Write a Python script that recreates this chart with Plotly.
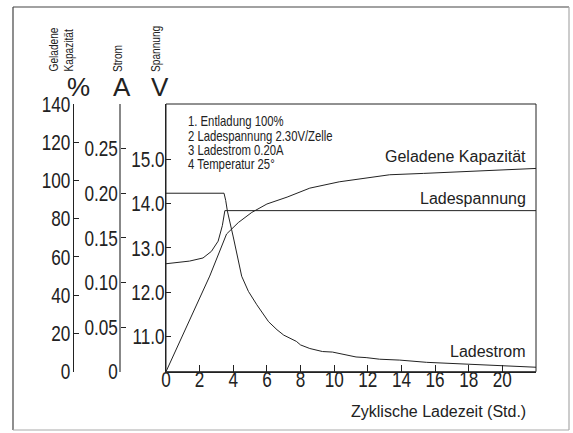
import plotly.graph_objects as go

# ---- data ----
t_spannung = [0, 0.6, 1.4, 2.2, 2.7, 3.1, 3.35, 3.5, 22]
spannung = [12.64, 12.66, 12.70, 12.77, 12.92, 13.15, 13.5, 13.84, 13.84]

t_strom = [0, 3.45, 3.55, 3.65, 4.0, 4.5, 4.9, 5.4, 6.1, 6.6, 7.0, 7.75, 8.0, 8.55,
           9.3, 9.9, 11.3, 11.9, 12.7, 13.9, 15.5, 18.0, 20.0, 22]
strom = [0.200, 0.200, 0.192, 0.180, 0.151, 0.107, 0.090, 0.075, 0.056, 0.047, 0.041,
         0.034, 0.030, 0.026, 0.0226, 0.022, 0.0165, 0.0158, 0.014, 0.013, 0.0105,
         0.0083, 0.0068, 0.005]

t_kapazitaet = [0, 1.6, 2.6, 3.6, 4.3, 5.1, 6.0, 7.2, 8.55, 10.3, 11.7, 13.3, 15.3, 18.2, 22]
kapazitaet = [0, 30.5, 50, 72, 78, 83.3, 87.7, 91.3, 96, 99.3, 101, 103, 103.7, 104.7, 106.3]

x_ticks = [0, 2, 4, 6, 8, 10, 12, 14, 16, 18, 20]
v_ticks = [11, 12, 13, 14, 15]
v_ticktext = ["11.0", "12.0", "13.0", "14.0", "15.0"]
a_ticks = [0, 0.05, 0.10, 0.15, 0.20, 0.25]
a_ticktext = ["0", "0.05", "0.10", "0.15", "0.20", "0.25"]
p_ticks = [0, 20, 40, 60, 80, 100, 120, 140]

info_lines = ["1. Entladung 100%", "2 Ladespannung 2.30V/Zelle",
              "3 Ladestrom 0.20A", "4 Temperatur 25°"]

W, H = 573, 433
def px(x):
    return x / W
def py(y):
    return 1 - y / H

NARROW = "Liberation Sans Narrow, Liberation Sans, Arial, sans-serif"
SANS = "Liberation Sans, Arial, sans-serif"
INK = "#222"

fig = go.Figure()
line = dict(color=INK, width=1)
fig.add_trace(go.Scatter(x=t_spannung, y=spannung, mode="lines", line=line, yaxis="y"))
fig.add_trace(go.Scatter(x=t_strom, y=strom, mode="lines", line=line, yaxis="y3"))
fig.add_trace(go.Scatter(x=t_kapazitaet, y=kapazitaet, mode="lines", line=line, yaxis="y2"))

tickfont = dict(family=NARROW, size=22, color=INK)
common_y = dict(showgrid=False, zeroline=False, showline=True, linecolor=INK, linewidth=1,
                ticks="inside", ticklen=5, tickcolor=INK, tickfont=tickfont, automargin=False)

fig.update_layout(
    width=W, height=H, template="none", showlegend=False,
    margin=dict(l=0, r=0, t=0, b=0),
    paper_bgcolor="white", plot_bgcolor="white",
    xaxis=dict(domain=[px(166), px(536)], range=[0, 22], tickvals=x_ticks,
               showgrid=False, zeroline=False, showline=True, linecolor=INK, linewidth=1,
               ticks="inside", ticklen=7, tickcolor=INK, tickfont=tickfont,
               ticklabelstandoff=-12, automargin=False, anchor="y"),
    yaxis=dict(domain=[py(371.7), py(104)], range=[10.2, 16.25], tickvals=v_ticks,
               ticktext=v_ticktext, anchor="x", side="left", ticklabelstandoff=-4,
               **common_y),
    yaxis2=dict(domain=[py(371.7), py(104)], range=[0, 140], tickvals=p_ticks,
                overlaying="y", anchor="free", position=px(72.7), side="left",
                ticklabelstandoff=-2, **common_y),
    yaxis3=dict(domain=[py(371.7), py(104)], range=[0, 0.3], tickvals=a_ticks,
                ticktext=a_ticktext, overlaying="y", anchor="free", position=px(120),
                side="left", ticklabelstandoff=-3,
                **{**common_y, "linecolor": "#888", "linewidth": 1.5}),
)

# plot box
fig.add_shape(type="rect", xref="x domain", yref="y domain", x0=0, x1=1, y0=0, y1=1,
              line=dict(color=INK, width=1))
# outer frame
fig.add_shape(type="line", xref="paper", yref="paper", x0=px(13), x1=px(13), y0=py(7), y1=py(430),
              line=dict(color="#444", width=1.2))
fig.add_shape(type="line", xref="paper", yref="paper", x0=px(13), x1=px(569), y0=py(7), y1=py(7),
              line=dict(color="#444", width=1.2))
fig.add_shape(type="line", xref="paper", yref="paper", x0=px(569), x1=px(569), y0=py(7), y1=py(430),
              line=dict(color="#aaa", width=1.2))
fig.add_shape(type="line", xref="paper", yref="paper", x0=px(13), x1=px(569), y0=py(430), y1=py(430),
              line=dict(color="#aaa", width=1.2))

def ann(text, x, y, xanchor="center", yanchor="middle", font=None, angle=0, align="center"):
    fig.add_annotation(text=text, x=px(x), y=py(y), xref="paper", yref="paper",
                       xanchor=xanchor, yanchor=yanchor, showarrow=False,
                       font=font, textangle=angle, align=align, borderpad=0)

unit_font = dict(family=SANS, size=26, color=INK)
ann("%", 78, 87, font=unit_font)
ann("A", 122, 87, font=unit_font)
ann("V", 160, 87, font=unit_font)

small = dict(family=NARROW, size=13, color=INK)
ann("Geladene", 53.5, 73, yanchor="bottom", font=small, angle=-90, align="left")
ann("Kapazität", 68, 73, yanchor="bottom", font=small, angle=-90, align="left")
ann("Strom", 117.5, 73, yanchor="bottom", font=small, angle=-90, align="left")
ann("Spannung", 155.5, 73, yanchor="bottom", font=small, angle=-90, align="left")

info_font = dict(family=NARROW, size=14.5, color=INK)
for i, txt in enumerate(info_lines):
    ann(txt, 187, 121 + i * 14.5, xanchor="left", font=info_font, align="left")

lab = dict(family=SANS, size=16, color=INK)
ann("Geladene Kapazität", 527, 156, xanchor="right", font=lab)
ann("Ladespannung", 527, 198, xanchor="right", font=lab)
ann("Ladestrom", 527, 351, xanchor="right", font=lab)
ann("Zyklische Ladezeit (Std.)", 527, 411, xanchor="right", font=lab)

# page without body margin; narrow texts condensed horizontally (no narrow font installed)
post = """
document.body.style.margin = '0';
var f = 0.78;
document.querySelectorAll('text').forEach(function (el) {
  var ff = el.style.fontFamily || '';
  if (ff.indexOf('Narrow') < 0) return;
  var len = el.getComputedTextLength();
  if (!len) return;
  var b0 = el.getBBox();
  el.setAttribute('textLength', (len * f).toFixed(2));
  el.setAttribute('lengthAdjust', 'spacingAndGlyphs');
  if (el.closest('.annotation')) {
    var b1 = el.getBBox();
    var x = parseFloat(el.getAttribute('x') || '0');
    el.setAttribute('x', (x + (b0.x - b1.x)).toFixed(2));
  }
});
"""

fig.write_html("out.html", post_script=post, config={"displayModeBar": False})
